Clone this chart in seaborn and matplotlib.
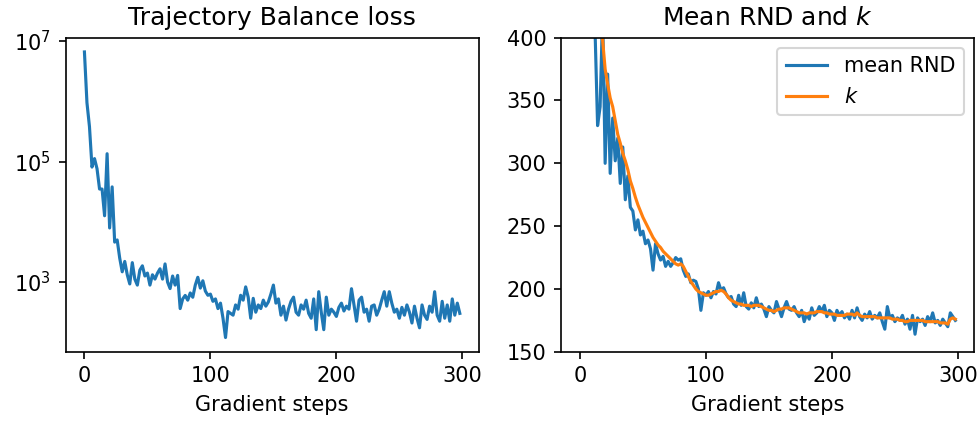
import numpy as np
import pandas as pd
import matplotlib
matplotlib.use("Agg")
import matplotlib.pyplot as plt
from matplotlib.ticker import NullLocator
import seaborn as sns

# gradient steps (every second step logged)
steps = list(range(0, 300, 2))

# Trajectory Balance loss (log scale)
tb_loss = [
    6.6e6, 9.5e5, 3.8e5, 8.1e4, 1.12e5, 7.6e4, 3.5e4, 3.5e4, 1.26e4, 1.35e5,
    7.9e3, 3.8e4, 4.6e3, 5.0e3, 2.5e3, 1.48e3, 2.2e3, 1.32e3, 930, 2.1e3,
    1.12e3, 890, 1.58e3, 1.86e3, 1.26e3, 1.41e3, 890, 1.32e3, 1.12e3, 1.41e3,
    1.66e3, 1.12e3, 2.0e3, 1.0e3, 780, 1.26e3, 890, 1.29e3, 363, 525,
    600, 500, 660, 560, 890, 1.2e3, 794, 1.05e3, 708, 603,
    631, 479, 525, 363, 447, 251, 120, 324, 302, 282,
    417, 355, 603, 501, 832, 562, 251, 537, 316, 417,
    363, 501, 398, 468, 631, 891, 447, 525, 282, 398,
    234, 355, 479, 562, 316, 282, 417, 355, 501, 302,
    251, 525, 162, 692, 316, 162, 562, 282, 355, 316,
    269, 380, 447, 331, 398, 355, 776, 417, 224, 501,
    562, 316, 355, 224, 398, 417, 282, 355, 501, 692,
    398, 692, 447, 316, 355, 251, 380, 282, 417, 316,
    209, 398, 251, 174, 417, 282, 240, 398, 316, 692,
    282, 224, 479, 251, 417, 224, 525, 282, 447, 302,
]

# mean RND distance and the k schedule
mean_rnd = [
    900, 820, 700, 620, 540, 470, 405, 330, 345, 420,
    300, 371, 292, 336, 302, 320, 284, 313, 271, 290,
    265, 262, 247, 255, 243, 246, 236, 239, 232, 215,
    236, 228, 223, 226, 218, 222, 218, 221, 225, 223,
    224, 215, 210, 212, 205, 207, 206, 200, 183, 197,
    195, 198, 193, 198, 196, 205, 199, 201, 196, 193,
    194, 188, 186, 195, 187, 197, 186, 184, 189, 185,
    193, 186, 188, 184, 178, 186, 183, 181, 190, 184,
    178, 185, 190, 184, 183, 186, 181, 178, 183, 174,
    180, 176, 185, 179, 181, 186, 182, 187, 178, 183,
    181, 175, 183, 179, 182, 177, 180, 176, 183, 177,
    185, 178, 175, 180, 177, 182, 176, 179, 177, 181,
    174, 168, 186, 177, 179, 174, 177, 175, 179, 172,
    176, 168, 179, 164, 177, 174, 176, 171, 178, 174,
    181, 173, 175, 171, 176, 173, 170, 181, 178, 175,
]
k_value = [
    800, 720, 650, 590, 540, 500, 465, 440, 415, 398,
    375, 363, 352, 345, 334, 323, 316, 308, 302, 295,
    286, 280, 273, 267, 262, 257, 253, 249, 245, 241,
    238, 235, 233, 230, 228, 226, 224, 222, 220, 219,
    220, 218, 214, 210, 206, 203, 200, 198, 197, 196,
    195, 195, 196, 197, 198, 198, 199, 198, 196, 193,
    191, 190, 189, 188, 188, 187, 187, 187, 186, 187,
    187, 187, 186, 185, 184, 183, 183, 182, 183, 184,
    184, 185, 185, 185, 184, 183, 182, 181, 181, 181,
    180, 181, 181, 181, 182, 182, 182, 181, 181, 180,
    180, 180, 179, 179, 179, 179, 180, 180, 180, 179,
    181, 179, 178, 178, 178, 178, 178, 178, 177, 177,
    177, 177, 177, 177, 176, 176, 176, 175, 175, 174,
    174, 175, 175, 175, 175, 175, 175, 174, 174, 174,
    174, 174, 174, 173, 173, 173, 172, 176, 177, 176,
]

df = pd.DataFrame({"step": steps, "loss": tb_loss, "rnd": mean_rnd, "k": k_value})

fig, (ax1, ax2) = plt.subplots(1, 2, figsize=(9.8 / 1.5, 4.28 / 1.5), dpi=150)
fig.subplots_adjust(left=0.067, right=0.994, bottom=0.178, top=0.912, wspace=0.2)

sns.lineplot(data=df, x="step", y="loss", ax=ax1, color="C0", linewidth=1.5)
ax1.set_yscale("log")
ax1.set_yticks([1e3, 1e5, 1e7])
ax1.yaxis.set_minor_locator(NullLocator())
ax1.set_title("Trajectory Balance loss")
ax1.set_xlabel("Gradient steps")
ax1.set_ylabel("")

sns.lineplot(data=df, x="step", y="rnd", ax=ax2, color="C0", linewidth=1.5, label="mean RND")
sns.lineplot(data=df, x="step", y="k", ax=ax2, color="C1", linewidth=1.5, label="$k$")
ax2.set_ylim(150, 400)
ax2.set_title("Mean RND and $k$")
ax2.set_xlabel("Gradient steps")
ax2.set_ylabel("")
ax2.legend(loc="upper right")

for ax in (ax1, ax2):
    ax.set_xticks([0, 100, 200, 300])

plt.savefig("out.png", dpi=150)
